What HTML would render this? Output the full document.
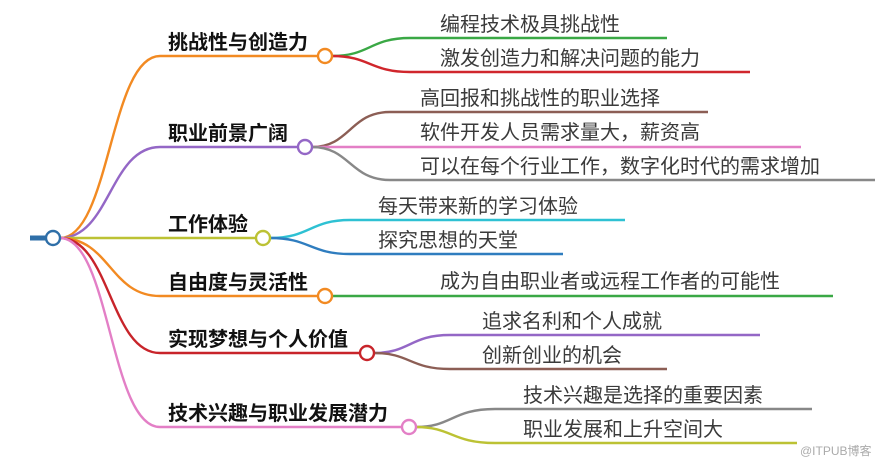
<!DOCTYPE html>
<html><head><meta charset="utf-8"><style>
body{margin:0;background:#fff}
svg text{font-family:"Liberation Sans","Noto Sans CJK SC",sans-serif}
.b{font-size:20px;font-weight:bold;fill:#111}
.l{font-size:20px;fill:#3a3a3a}
</style></head><body>
<svg width="890" height="464" viewBox="0 0 890 464" fill="none" stroke-width="2.4">
<line x1="30" y1="238" x2="46" y2="238" stroke="#2f6fa8" stroke-width="5"/>
<path d="M60 238 C110 238 110 56 160 56 L318 56" stroke="#f28a22"/>
<path d="M60 238 C110 238 110 147 160 147 L298 147" stroke="#9467c6"/>
<path d="M60 238 L256 238" stroke="#bcc234"/>
<path d="M60 238 C110 238 110 296 160 296 L318 296" stroke="#f28a22"/>
<path d="M60 238 C110 238 110 353 160 353 L360 353" stroke="#c8242a"/>
<path d="M60 238 C110 238 110 427 160 427 L402 427" stroke="#e37fc6"/>
<path d="M332 56 C370 56 370 38 410 38 L667 38" stroke="#3aa845"/>
<path d="M332 56 C370 56 370 72 410 72 L750 72" stroke="#d0262c"/>
<path d="M312 147 C350 147 350 112 390 112 L708 112" stroke="#8c5e55"/>
<path d="M312 147 L801 147" stroke="#e37fc6"/>
<path d="M312 147 C350 147 350 180 390 180 L875 180" stroke="#888"/>
<path d="M270 238 C310 238 310 220 350 220 L625 220" stroke="#2ec1d3"/>
<path d="M270 238 C310 238 310 254 350 254 L563 254" stroke="#2f7dbf"/>
<path d="M332 296 L833 296" stroke="#3aa845"/>
<path d="M374 353 C410 353 410 335 450 335 L760 335" stroke="#9467c6"/>
<path d="M374 353 C410 353 410 369 450 369 L667 369" stroke="#8c5e55"/>
<path d="M416 427 C452 427 452 409 495 409 L812 409" stroke="#888"/>
<path d="M416 427 C452 427 452 443 495 443 L797 443" stroke="#bcc234"/>
<circle cx="53" cy="238" r="7" fill="#fff" stroke="#2f6fa8"/>
<circle cx="325" cy="56" r="7" fill="#fff" stroke="#f28a22"/>
<circle cx="305" cy="147" r="7" fill="#fff" stroke="#9467c6"/>
<circle cx="263" cy="238" r="7" fill="#fff" stroke="#bcc234"/>
<circle cx="325" cy="296" r="7" fill="#fff" stroke="#f28a22"/>
<circle cx="367" cy="353" r="7" fill="#fff" stroke="#c8242a"/>
<circle cx="409" cy="427" r="7" fill="#fff" stroke="#e37fc6"/>
<g stroke="none">
<text class="b" x="168" y="49">挑战性与创造力</text>
<text class="b" x="168" y="140">职业前景广阔</text>
<text class="b" x="168" y="231">工作体验</text>
<text class="b" x="168" y="289">自由度与灵活性</text>
<text class="b" x="168" y="346">实现梦想与个人价值</text>
<text class="b" x="168" y="420">技术兴趣与职业发展潜力</text>
<text class="l" x="440" y="31">编程技术极具挑战性</text>
<text class="l" x="440" y="65">激发创造力和解决问题的能力</text>
<text class="l" x="420" y="105">高回报和挑战性的职业选择</text>
<text class="l" x="420" y="139">软件开发人员需求量大，薪资高</text>
<text class="l" x="420" y="173">可以在每个行业工作，数字化时代的需求增加</text>
<text class="l" x="378" y="213">每天带来新的学习体验</text>
<text class="l" x="378" y="247">探究思想的天堂</text>
<text class="l" x="440" y="288">成为自由职业者或远程工作者的可能性</text>
<text class="l" x="482" y="328">追求名利和个人成就</text>
<text class="l" x="482" y="362">创新创业的机会</text>
<text class="l" x="523" y="402">技术兴趣是选择的重要因素</text>
<text class="l" x="523" y="436">职业发展和上升空间大</text>
<text x="800" y="455" style="font-size:12px;fill:#aaa">@ITPUB博客</text>
</g>
</svg>
</body></html>
